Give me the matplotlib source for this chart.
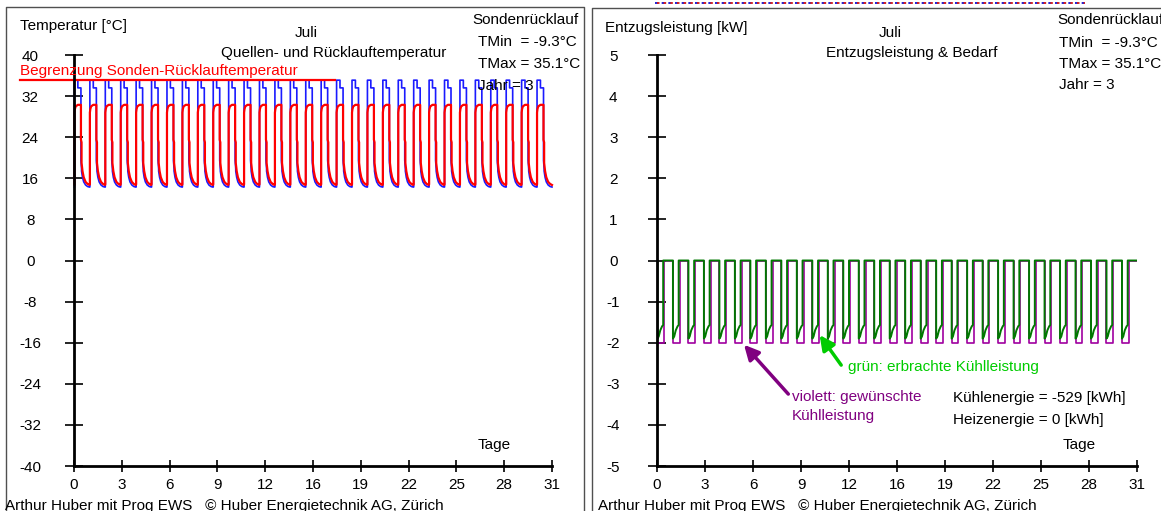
import matplotlib
matplotlib.use("Agg")
import matplotlib.pyplot as plt
import numpy as np
from matplotlib.lines import Line2D

plt.rcParams['font.family'] = ['Liberation Sans', 'DejaVu Sans']
plt.rcParams['font.size'] = 11

# ---- data ----
n_days = 31
cycle_offset = 0.03          # start of the daily cooling block (day fraction)

# one daily cycle of the temperatures (time in day fraction, deg C)
temp_t = [0.00, 0.00, 0.03, 0.08, 0.22, 0.22, 0.42, 0.42, 0.46, 0.46, 0.52, 0.60, 0.72, 0.85, 0.97]
blue_temp = [14.3, 35.1, 35.1, 35.1, 35.1, 33.6, 33.6, 19.5, 17.8, 17.4, 16.2, 15.3, 14.7, 14.4, 14.3]
red_temp = [14.8, 28.8, 29.5, 30.0, 30.3, 30.3, 30.3, 23.5, 23.0, 19.0, 17.4, 16.2, 15.3, 14.9, 14.7]

# one daily cycle of the power (time in day fraction, kW)
pow_t_violet = [0.00, 0.00, 0.44, 0.44, 0.97]
violet_kw = [0.0, -2.0, -2.0, 0.0, 0.0]
pow_t_green = [0.00, 0.00, 0.08, 0.18, 0.30, 0.37, 0.37, 0.97]
green_kw = [0.0, -1.9, -1.85, -1.7, -1.6, -1.57, 0.0, 0.0]

limit_temp = 35.2
limit_x = [-3.5, 16.9]

x_ticks = np.linspace(0, 31, 11)
x_ticklabels = ['0', '3', '6', '9', '12', '16', '19', '22', '25', '28', '31']
temp_ticks = [40, 32, 24, 16, 8, 0, -8, -16, -24, -32, -40]
kw_ticks = [5, 4, 3, 2, 1, 0, -1, -2, -3, -4, -5]


def tile(t_day, vals):
    t = np.concatenate([d + cycle_offset + np.array(t_day) for d in range(n_days)])
    v = np.tile(vals, n_days)
    return t, v


W, H = 1161, 511
fig = plt.figure(figsize=(W / 100, H / 100), dpi=100)
fig.patch.set_facecolor('white')


def px_axes(x0, y0, x1, y1):
    return fig.add_axes([x0 / W, 1 - y1 / H, (x1 - x0) / W, (y1 - y0) / H])


def ftext(x, y, s, **kw):
    fig.text(x / W, 1 - y / H, s, va=kw.pop('va', 'center'), **kw)


def style_axes(ax, ylim, yticks):
    ax.set_xlim(0, 31)
    ax.set_ylim(*ylim)
    for s in ['top', 'right']:
        ax.spines[s].set_visible(False)
    for s in ['left', 'bottom']:
        ax.spines[s].set_linewidth(2)
    ax.set_facecolor('none')
    ax.set_xticks(x_ticks)
    ax.set_xticklabels(x_ticklabels)
    ax.set_yticks(yticks)
    ax.set_yticklabels([str(v) for v in yticks])
    ax.tick_params(axis='x', direction='inout', length=9, width=1.2, pad=4)
    ax.tick_params(axis='y', direction='inout', length=13, width=1.2, pad=25)
    for lab in ax.get_yticklabels():
        lab.set_ha('center')


# panel frames
for xs, ys in [([6, 6, 584, 584], [520, 7, 7, 520]),
               ([592, 592, 1170], [520, 8, 8])]:
    fig.add_artist(Line2D(np.array(xs) / W, 1 - np.array(ys) / H, color='#505050', lw=1))
# leftover dotted line on top of the right panel
fig.add_artist(Line2D(np.array([655, 1085]) / W, [1 - 3 / H] * 2, color='#0000cc', lw=1.2,
                      linestyle=(0, (1.5, 2.5))))
fig.add_artist(Line2D(np.array([657, 1085]) / W, [1 - 3 / H] * 2, color='#cc0000', lw=1.2,
                      linestyle=(0, (1.5, 2.5))))

# ---- left: temperatures ----
ax1 = px_axes(74, 55, 552, 466)
style_axes(ax1, (-40, 40), temp_ticks)
tb, vb = tile(temp_t, blue_temp)
tr, vr = tile(temp_t, red_temp)
ax1.plot(tb, vb, color='#1a1aff', lw=1.2, clip_on=False)
ax1.plot(tr, vr, color='#ff0000', lw=1.6, clip_on=False)
ax1.plot(limit_x, [limit_temp] * 2, color='#ff0000', lw=1.6, clip_on=False)

ftext(20, 26, 'Temperatur [°C]')
ftext(306, 33, 'Juli', ha='center')
ftext(334, 53, 'Quellen- und Rücklauftemperatur', ha='center')
ftext(472, 20, 'Sondenrücklauf')
ftext(478, 42, 'TMin  = -9.3°C')
ftext(478, 64, 'TMax = 35.1°C')
ftext(478, 86, 'Jahr = 3')
ftext(20, 71, 'Begrenzung Sonden-Rücklauftemperatur', color='#ff0000')
ftext(478, 445, 'Tage')
ftext(5, 499, 'Arthur Huber mit Prog EWS   © Huber Energietechnik AG, Zürich', va='top')

# ---- right: power ----
ax2 = px_axes(657, 55, 1137, 466)
style_axes(ax2, (-5, 5), kw_ticks)
tv, vv = tile(pow_t_violet, violet_kw)
tg, vg = tile(pow_t_green, green_kw)
ax2.plot(tv, vv, color='#a000a0', lw=1.2)
ax2.plot(tg, vg, color='#007800', lw=1.4)

ax2.annotate('', xy=(5.5, -2.0), xytext=(8.6, -3.3),
             arrowprops=dict(arrowstyle='-|>', color='#800080', lw=2.5, mutation_scale=22))
ax2.annotate('', xy=(10.4, -1.76), xytext=(12.0, -2.6),
             arrowprops=dict(arrowstyle='-|>', color='#00cc00', lw=2.5, mutation_scale=22))

ftext(605, 28, 'Entzugsleistung [kW]')
ftext(890, 33, 'Juli', ha='center')
ftext(912, 53, 'Entzugsleistung & Bedarf', ha='center')
ftext(1057, 20, 'Sondenrücklauf')
ftext(1059, 43, 'TMin  = -9.3°C')
ftext(1059, 64, 'TMax = 35.1°C')
ftext(1059, 85, 'Jahr = 3')
ftext(848, 367, 'grün: erbrachte Kühlleistung', color='#00cc00')
ftext(792, 397, 'violett: gewünschte', color='#800080')
ftext(792, 416, 'Kühlleistung', color='#800080')
ftext(953, 398, 'Kühlenergie = -529 [kWh]')
ftext(953, 420, 'Heizenergie = 0 [kWh]')
ftext(1063, 445, 'Tage')
ftext(598, 499, 'Arthur Huber mit Prog EWS   © Huber Energietechnik AG, Zürich', va='top')

fig.savefig('out.png', dpi=100)
